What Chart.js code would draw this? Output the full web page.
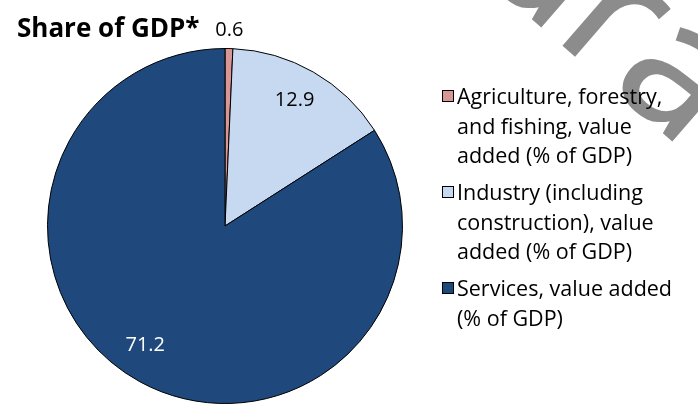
<!DOCTYPE html>
<html>
<head>
<meta charset="utf-8">
<script src="https://cdn.jsdelivr.net/npm/chart.js@4.4.1/dist/chart.umd.min.js"></script>
<style>
  html, body { margin: 0; padding: 0; background: #fff; }
  #wrap { position: relative; width: 698px; height: 406px; overflow: hidden; font-family: "Open Sans", sans-serif; }
  #wm { position: absolute; left: 581px; top: -150px; font-family: "Open Sans", sans-serif; font-size: 180px; color: #8c8c8c; transform: rotate(41deg); transform-origin: 0 0; white-space: nowrap; z-index: 0; line-height: 1; -webkit-text-stroke: 2px #8c8c8c; }
  canvas { position: absolute; left: 0; top: 0; z-index: 1; }
  #title { position: absolute; left: 17px; top: 14px; font-size: 26px; line-height: 1; font-weight: bold; color: #000; z-index: 2; }
  #legend { position: absolute; left: 441px; top: 81px; width: 250px; z-index: 2; }
  .item { position: relative; padding-left: 16px; font-size: 21.5px; line-height: 29.5px; color: #000; margin-bottom: 7.5px; }
  .sw { position: absolute; left: 1px; top: 9px; width: 10px; height: 10px; border: 1px solid #000; }
</style>
</head>
<body>
<div id="wrap">
  <div id="wm">ara</div>
  <canvas id="c" width="698" height="406"></canvas>
  <div id="title">Share of GDP*</div>
  <div id="legend"></div>
</div>
<script>
const categories = [
  "Agriculture, forestry, and fishing, value added (% of GDP)",
  "Industry (including construction), value added (% of GDP)",
  "Services, value added (% of GDP)"
];
const values = [0.6, 12.9, 71.2];
const colors = ["#D99694", "#C6D9F1", "#1F497D"];
const labelColors = ["#000000", "#000000", "#FFFFFF"];

const legend = document.getElementById('legend');
categories.forEach((c, i) => {
  const d = document.createElement('div');
  d.className = 'item';
  d.innerHTML = '<span class="sw" style="background:' + colors[i] + '"></span>' + c;
  legend.appendChild(d);
});

// label placement tweaks (angle offset in degrees)
const labelAngleOffset = [0, -1, 5];

const labelPlugin = {
  id: 'sliceLabels',
  afterDatasetsDraw(chart) {
    const ctx = chart.ctx;
    const meta = chart.getDatasetMeta(0);
    ctx.save();
    ctx.font = '20px "Open Sans", sans-serif';
    ctx.textAlign = 'center';
    ctx.textBaseline = 'middle';
    meta.data.forEach((arc, i) => {
      const p = arc.getProps(['x', 'y', 'startAngle', 'endAngle', 'outerRadius'], true);
      const mid = (p.startAngle + p.endAngle) / 2 + labelAngleOffset[i] * Math.PI / 180;
      const span = p.endAngle - p.startAngle;
      const r = span < 0.2 ? p.outerRadius + 18 : p.outerRadius * 0.81;
      ctx.fillStyle = span < 0.2 ? '#000' : labelColors[i];
      ctx.fillText(values[i].toFixed(1), p.x + Math.cos(mid) * r, p.y + Math.sin(mid) * r);
    });
    ctx.restore();
  }
};

new Chart(document.getElementById('c'), {
  type: 'pie',
  data: {
    labels: categories,
    datasets: [{
      data: values,
      backgroundColor: colors,
      borderColor: '#000',
      borderWidth: 1
    }]
  },
  options: {
    responsive: false,
    animation: false,
    layout: { padding: { left: 47, top: 48, right: 295, bottom: 2 } },
    plugins: { legend: { display: false }, tooltip: { enabled: false } }
  },
  plugins: [labelPlugin]
});
</script>
</body>
</html>
